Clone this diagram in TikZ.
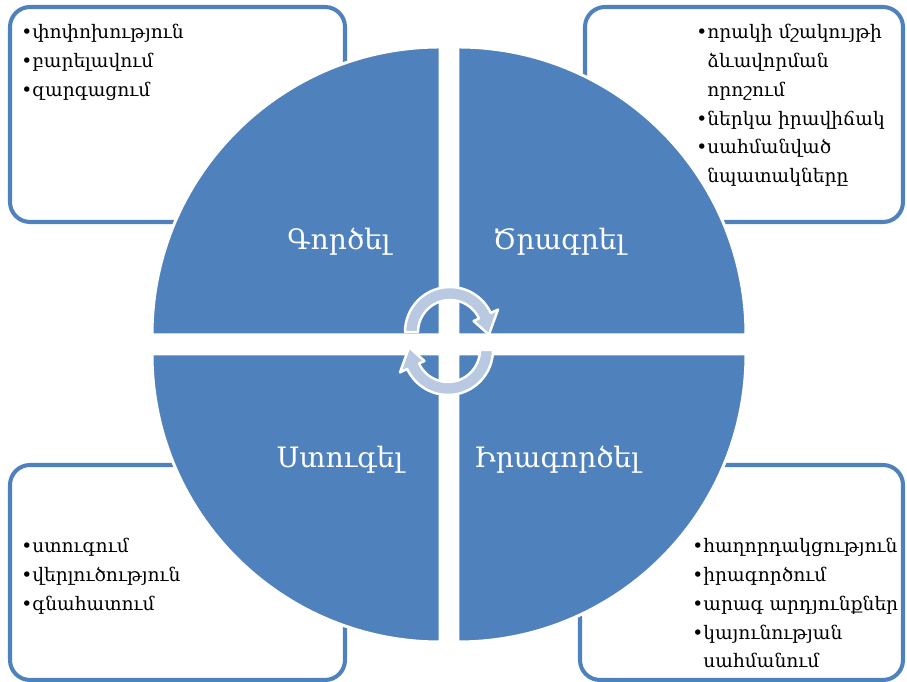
\documentclass[tikz,border=0pt]{standalone}
\usepackage{fontspec}
\setmainfont{DejaVu Serif}

\definecolor{quadblue}{RGB}{79,129,189}
\definecolor{arrowfill}{RGB}{185,201,226}

\tikzset{
  listbox/.style={draw=quadblue,line width=2.3pt,fill=white,rounded corners=0.4cm},
  quarter/.style={fill=quadblue,draw=white,line width=1.7pt},
  cyclearrow/.style={fill=arrowfill,draw=white,line width=1.4pt,line join=round},
}

\begin{document}
\begin{tikzpicture}[x=0.02cm,y=0.02cm]
            \useasboundingbox (0,0) rectangle (907,682);

            % frames behind the circle
            \path[listbox] (10,675) rectangle (345,460);
            \path[listbox] (585,675) rectangle (903,460);
            \path[listbox] (10,217) rectangle (345,2);
            \path[listbox] (580,217) rectangle (903,2);

            % the four quarters
            \path[quarter] (440,347) -- ++(-288,0) arc (180:90:288) -- cycle;
            \path[quarter] (458,347) -- ++(0,288) arc (90:0:288) -- cycle;
            \path[quarter] (440,328) -- ++(0,-288) arc (270:180:288) -- cycle;
            \path[quarter] (458,328) -- ++(288,0) arc (0:-90:288) -- cycle;

            % arrows in the middle
            \foreach \r in {0,180}
                \path[cyclearrow,rotate around={\r:(449,341)},shift={(450,350)}]
                    (180:45) arc (180:25:45) -- (25:53) -- (-4:39) -- (25:26)
                    -- (25:32) arc (25:180:32) -- cycle;

            \begin{scope}[every node/.style={text=white,anchor=base,inner sep=0pt,
                    font=\fontsize{16}{19}\selectfont}]
                \node (gortsel) at (339,432) {Գործել};
                \node (tsragrel) at (559,432) {Ծրագրել};
                \node (stugel) at (340,214) {Ստուգել};
                \node (iragortsel) at (557,214) {Իրագործել};
            \end{scope}

            \begin{scope}[every node/.style={anchor=north west,align=left,inner sep=0pt,
                    font=\fontsize{10.6}{16.4}\selectfont}]
                \node (tl) at (21,658) {•փոփոխություն\\•բարելավում\\•զարգացում};
                \node (tr) at (696,658) {•որակի մշակույթի\\\phantom{•}ձևավորման\\\phantom{•}որոշում\\•ներկա իրավիճակ\\•սահմանված\\\phantom{•}նպատակները};
                \node (bl) at (21,144) {•ստուգում\\•վերլուծություն\\•գնահատում};
                \node (br) at (692,144) {•հաղորդակցություն\\•իրագործում\\•արագ արդյունքներ\\•կայունության\\\phantom{•}սահմանում};
            \end{scope}
            \end{tikzpicture}
\end{document}
